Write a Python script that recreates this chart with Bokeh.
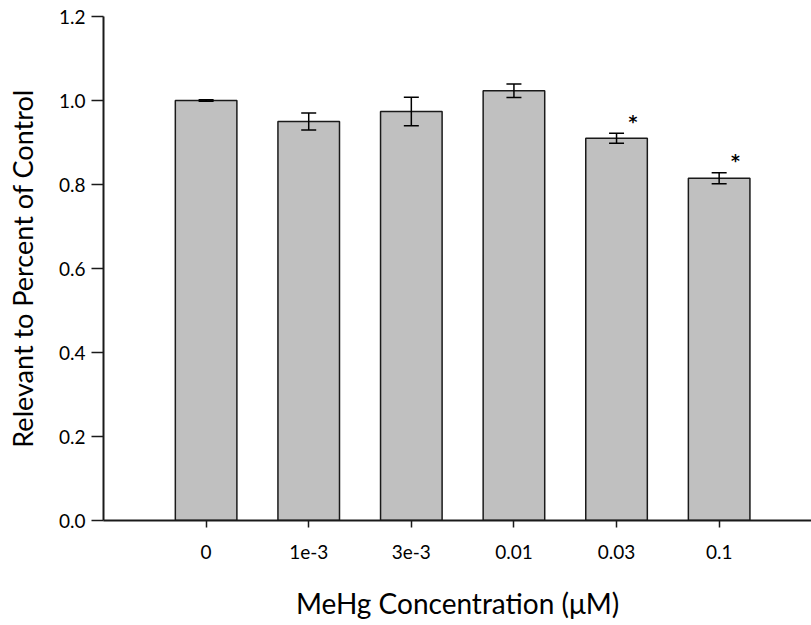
from bokeh.plotting import figure
from bokeh.models import ColumnDataSource, Range1d, FixedTicker, Whisker, TeeHead
from bokeh.core.properties import value
from bokeh.embed import file_html
from bokeh.resources import INLINE

# MeHg concentrations (uM) and relative response
concentrations = ["0", "1e-3", "3e-3", "0.01", "0.03", "0.1"]
means = [1.000, 0.950, 0.974, 1.023, 0.910, 0.815]
errors = [0.002, 0.020, 0.034, 0.016, 0.012, 0.013]
significant = [False, False, False, False, True, True]
y_ticks = [0.0, 0.2, 0.4, 0.6, 0.8, 1.0, 1.2]

FONT = "Lato"

xs = list(range(len(concentrations)))
source = ColumnDataSource(data=dict(
    x=xs,
    mean=means,
    upper=[m + e for m, e in zip(means, errors)],
    lower=[m - e for m, e in zip(means, errors)],
))

p = figure(width=811, height=625, output_backend="svg", toolbar_location=None,
           x_range=Range1d(-1, 5.9), y_range=Range1d(0, 1.2),
           min_border_left=103, min_border_right=0, min_border_top=16,
           min_border_bottom=105)
p.outline_line_color = None
p.xgrid.visible = False
p.ygrid.visible = False
p.background_fill_color = "white"
p.border_fill_color = "white"

p.vbar(x="x", top="mean", width=0.6, bottom=0, source=source,
       fill_color="#c0c0c0", line_color="#1a1a1a", line_width=1.5)

whisker = Whisker(source=source, base="x", upper="upper", lower="lower",
                  line_color="black", line_width=1.5, level="overlay",
                  upper_head=TeeHead(size=15, line_color="black", line_width=1.5),
                  lower_head=TeeHead(size=15, line_color="black", line_width=1.5))
p.add_layout(whisker)

# significance markers
star_x = [x + 0.16 for x, s in zip(xs, significant) if s]
star_y = [m + e + 0.028 for m, e, s in zip(means, errors, significant) if s]
p.text(x=star_x, y=star_y, text=["*"] * len(star_x), text_align="center",
       text_baseline="middle", text_font=value("DejaVu Sans"),
       text_font_size="17px", text_font_style="bold", text_color="black")

# axes
p.xaxis.ticker = FixedTicker(ticks=xs)
p.xaxis.major_label_overrides = {i: c for i, c in enumerate(concentrations)}
p.yaxis.ticker = FixedTicker(ticks=y_ticks)
p.yaxis.formatter.use_scientific = False
p.yaxis.major_label_overrides = {t: f"{t:.1f}" for t in y_ticks}

for ax in (p.xaxis[0], p.yaxis[0]):
    ax.axis_line_color = "#1a1a1a"
    ax.axis_line_width = 2
    ax.major_tick_line_color = "#1a1a1a"
    ax.major_tick_line_width = 1.5
    ax.minor_tick_line_color = None
    ax.major_tick_in = 0
    ax.major_label_text_font = FONT
    ax.major_label_text_font_size = "19px"
    ax.major_label_text_color = "black"
    ax.axis_label_text_font = FONT
    ax.axis_label_text_font_style = "normal"
    ax.axis_label_text_color = "black"

p.xaxis.major_tick_out = 7
p.xaxis.major_label_standoff = 17
p.xaxis.axis_label = "MeHg Concentration (\u03bcM)"
p.xaxis.axis_label_text_font_size = "28px"
p.xaxis.axis_label_standoff = 24

p.yaxis.major_tick_out = 12
p.yaxis.major_label_standoff = 6
p.yaxis.axis_label = "Relevant to Percent of Control"
p.yaxis.axis_label_text_font_size = "27px"
p.yaxis.axis_label_standoff = 17

open("out.html", "w").write(file_html(p, INLINE))
